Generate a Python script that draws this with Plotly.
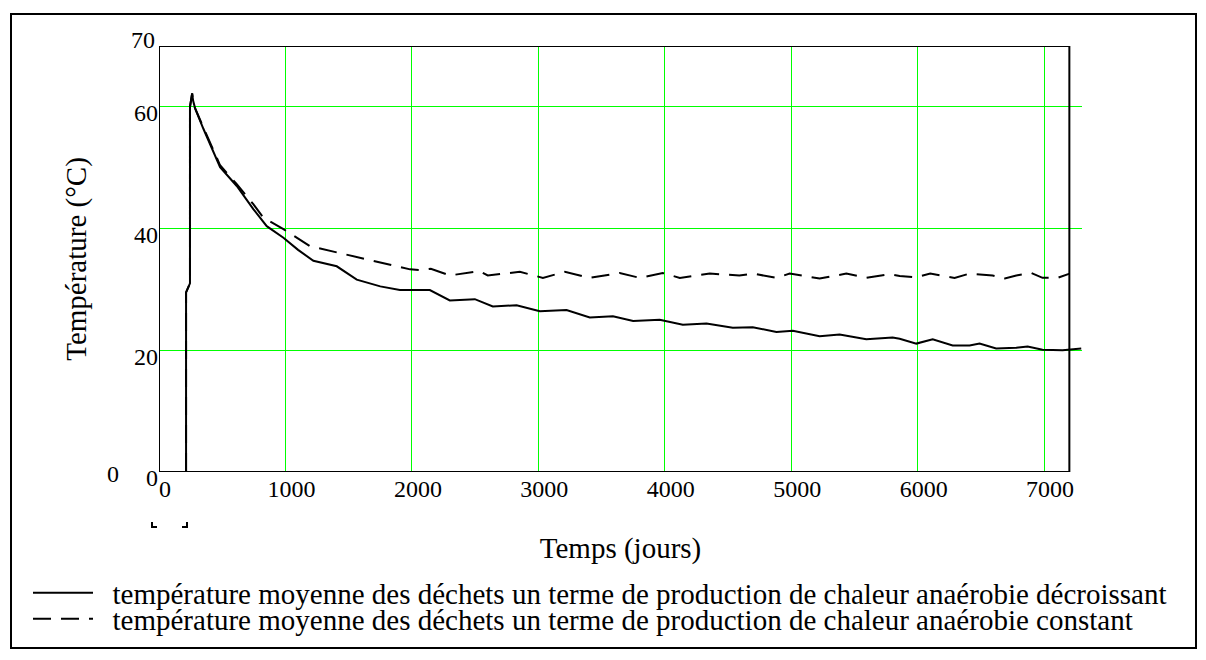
import plotly.graph_objects as go

# ---------------- data ----------------
days_decroissant = [0, 214, 214, 245, 245, 262, 270, 285, 351, 483, 615, 746, 852, 984,
                    1100, 1221, 1406, 1564, 1750, 1905, 2142, 2300, 2498, 2640, 2828,
                    3012, 3223, 3407, 3590, 3750, 3960, 4143, 4330, 4538, 4696, 4883,
                    5013, 5225, 5383, 5594, 5802, 5858, 5990, 6119, 6277, 6411, 6490,
                    6621, 6779, 6870, 6988, 7146, 7294]
temp_decroissant = [0, 0, 29.5, 31, 60, 62.2, 61, 59.8, 56.4, 50.1, 47.0, 43.2, 40.4, 38.5,
                    36.5, 34.7, 33.8, 31.6, 30.5, 29.9, 29.9, 28.2, 28.4, 27.2, 27.4,
                    26.4, 26.6, 25.4, 25.6, 24.8, 25.0, 24.2, 24.4, 23.7, 23.8, 23.0,
                    23.2, 22.3, 22.6, 21.8, 22.1, 21.9, 21.1, 21.8, 20.8, 20.8, 21.1,
                    20.3, 20.4, 20.6, 20.1, 20.0, 20.3]

days_constant = [0, 214, 214, 245, 245, 262, 270, 285, 351, 483, 615, 746, 825, 984,
                 1195, 1458, 1748, 1986, 2063, 2150, 2300, 2537, 2600, 2854, 3036, 3210,
                 3407, 3644, 3802, 3984, 4119, 4356, 4590, 4696, 4883, 4988, 5225, 5436,
                 5594, 5779, 5858, 5990, 6100, 6292, 6411, 6593, 6690, 6780, 6899, 6988,
                 7107, 7202]
temp_constant = [0, 0, 29.5, 31, 60, 62.2, 61, 59.8, 56.6, 50.4, 47.3, 44.0, 41.8, 39.9,
                 37.1, 35.8, 34.4, 33.3, 33.2, 33.4, 32.3, 33.0, 32.3, 32.9, 31.9, 32.9,
                 31.9, 32.7, 31.9, 32.7, 31.9, 32.6, 32.3, 32.6, 31.9, 32.6, 31.8, 32.6,
                 31.9, 32.5, 32.2, 32.0, 32.6, 31.9, 32.6, 32.3, 31.8, 32.3, 32.7, 31.9,
                 31.9, 32.6]

name_decroissant = "température moyenne des déchets un terme de production de chaleur anaérobie décroissant"
name_constant = "température moyenne des déchets un terme de production de chaleur anaérobie constant"

x_ticks = [0, 1000, 2000, 3000, 4000, 5000, 6000, 7000]
y_ticks = [0, 20, 40, 60]
y_top_label = 70
x_end = 7200
y_end = 70

# ---------------- layout geometry (pixels) ----------------
W, H = 1206, 660
L, R, T, B = 159, 1082, 46, 472
SERIF = "Liberation Serif, Times New Roman, serif"
NB = "\u00a0\u00a0"  # small gap between legend sample and text


def px(x):
    return (x - L) / (R - L)


def py(y):
    return (B - y) / (B - T)


fig = go.Figure()
fig.add_trace(go.Scatter(x=days_decroissant, y=temp_decroissant, mode="lines",
                         name=NB + name_decroissant, legend="legend",
                         line=dict(color="black", width=2)))
fig.add_trace(go.Scatter(x=days_constant, y=temp_constant, mode="lines",
                         name=NB + name_constant, legend="legend2",
                         line=dict(color="black", width=2, dash="18px,10px")))

shapes = [
    # plot frame (data coords)
    dict(type="rect", xref="x", yref="y", x0=0, y0=0, x1=x_end, y1=y_end,
         line=dict(color="black", width=2), layer="above"),
    # outer border
    dict(type="rect", xref="paper", yref="paper", x0=px(11), x1=px(1196),
         y0=py(648), y1=py(14), line=dict(color="black", width=2)),
    # Mathcad placeholder brackets
    dict(type="path", xref="paper", yref="paper",
         path=f"M {px(152)} {py(522)} L {px(152)} {py(527)} L {px(157)} {py(527)}",
         line=dict(color="black", width=2)),
    dict(type="path", xref="paper", yref="paper",
         path=f"M {px(187)} {py(522)} L {px(187)} {py(527)} L {px(182)} {py(527)}",
         line=dict(color="black", width=2)),
]

annotations = [
    dict(text=str(y_top_label), xref="paper", yref="y", x=px(157), y=y_top_label,
         xanchor="right", yanchor="middle", yshift=6, showarrow=False,
         font=dict(family=SERIF, size=24, color="black")),
    dict(text="0", xref="paper", yref="paper", x=px(113), y=py(474),
         xanchor="center", yanchor="middle", showarrow=False,
         font=dict(family=SERIF, size=24, color="black")),
]

legend_common = dict(xanchor="left", yanchor="middle",
                     font=dict(family=SERIF, size=29, color="black"),
                     bgcolor="rgba(0,0,0,0)", itemwidth=60, borderwidth=0)

fig.update_layout(
    width=W, height=H,
    margin=dict(l=L, r=W - R, t=T, b=H - B, pad=0),
    paper_bgcolor="white", plot_bgcolor="white",
    font=dict(family=SERIF, color="black", size=24),
    shapes=shapes, annotations=annotations,
    showlegend=True,
    legend=dict(x=px(28), y=py(593), **legend_common),
    legend2=dict(x=px(28), y=py(619), **legend_common),
    xaxis=dict(range=[0, 7300], tickvals=x_ticks, showgrid=True,
               gridcolor="#00ff00", gridwidth=1, zeroline=False, showline=False,
               ticks="", ticklabelshift=6,
               tickfont=dict(family=SERIF, size=24, color="black"),
               title=dict(text="Temps (jours)", standoff=36,
                          font=dict(family=SERIF, size=29, color="black"))),
    yaxis=dict(range=[0, y_end], tickvals=y_ticks, showgrid=True,
               gridcolor="#00ff00", gridwidth=1, zeroline=False, showline=False,
               ticks="", ticklabelshift=6,
               tickfont=dict(family=SERIF, size=24, color="black"),
               title=dict(text="Température (°C)", standoff=38,
                          font=dict(family=SERIF, size=29, color="black"))),
)

fig.write_html("out.html",
               config={"displayModeBar": False},
               post_script="document.body.style.margin='0px';"
                           "document.body.style.overflow='hidden';")
